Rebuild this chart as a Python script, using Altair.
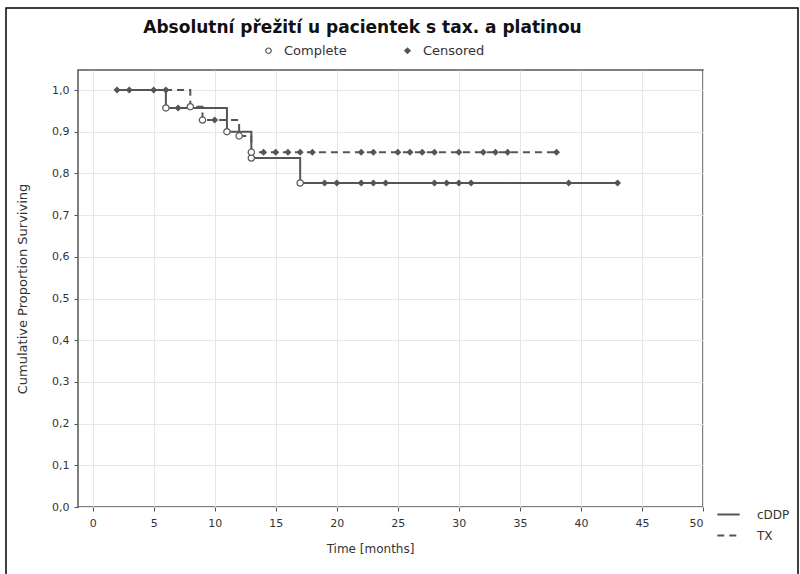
import altair as alt
import pandas as pd

# ---- data ----
groups = ["cDDP", "TX"]
# step-curve vertices (time in months, cumulative proportion surviving)
cddp_time = [2, 6, 11, 13, 17, 43]
cddp_surv = [1.0, 0.957, 0.900, 0.837, 0.777, 0.777]
tx_time = [2, 8, 9, 12, 13, 38]
tx_surv = [1.0, 0.960, 0.928, 0.890, 0.851, 0.851]
# complete (event) times
cddp_events = [6, 11, 13, 17]
tx_events = [8, 9, 12, 13]
# censored times
cddp_censored = [2, 5, 7, 19, 20, 22, 23, 24, 28, 29, 30, 31, 39, 43]
tx_censored = [3, 6, 10, 14, 15, 16, 17, 18, 22, 23, 25, 26, 27, 28, 30, 32, 33, 34, 38]

x_ticks = list(range(0, 51, 5))
y_ticks = [0.0, 0.1, 0.2, 0.3, 0.4, 0.5, 0.6, 0.7, 0.8, 0.9, 1.0]

FONT = "DejaVu Sans"
INK = "#555555"


def surv_at(times, survs, t):
    val = survs[0]
    for tt, ss in zip(times, survs):
        if tt <= t:
            val = ss
    return val


curves = {"cDDP": (cddp_time, cddp_surv, cddp_events, cddp_censored),
          "TX": (tx_time, tx_surv, tx_events, tx_censored)}

line_rows, point_rows = [], []
for g in groups:
    times, survs, events, cens = curves[g]
    for t, s in zip(times, survs):
        line_rows.append({"group": g, "time": t, "surv": s})
    for t in events:
        point_rows.append({"group": g, "type": "Complete", "time": t, "surv": surv_at(times, survs, t)})
    for t in cens:
        point_rows.append({"group": g, "type": "Censored", "time": t, "surv": surv_at(times, survs, t)})

lines_df = pd.DataFrame(line_rows)
points_df = pd.DataFrame(point_rows)

x_scale = alt.Scale(domain=[-1.2, 50], nice=False, zero=False)
y_scale = alt.Scale(domain=[0, 1.048], nice=False)

x_axis = alt.Axis(values=x_ticks, title="Time [months]", grid=True, titleX=292,
                  labelPadding=6, titlePadding=15, titleFontSize=12)
y_axis = alt.Axis(values=y_ticks, title="Cumulative Proportion Surviving", grid=True,
                  labelExpr="replace(format(datum.value, '.1f'), '.', ',')",
                  labelPadding=5, titlePadding=22, titleFontSize=13)

lines = alt.Chart(lines_df).mark_line(interpolate="step-after", color=INK, strokeWidth=2).encode(
    x=alt.X("time:Q", scale=x_scale, axis=x_axis),
    y=alt.Y("surv:Q", scale=y_scale, axis=y_axis),
    strokeDash=alt.StrokeDash(
        "group:N",
        scale=alt.Scale(domain=groups, range=[[1, 0], [7, 5]]),
        legend=alt.Legend(title=None, orient="none", legendX=638, legendY=432,
                          symbolType="stroke", symbolSize=500, symbolStrokeColor=INK,
                          symbolStrokeWidth=2, labelFontSize=12, rowPadding=2,
                          labelOffset=16, labelFont=FONT, labelColor="#333"),
    ),
    detail="group:N",
)

pt_legend = alt.Legend(title=None, orient="none", direction="horizontal",
                       legendX=184, legendY=-26, labelFontSize=13, labelFont=FONT,
                       labelColor="#333", columnPadding=54, symbolSize=30,
                       symbolStrokeWidth=1.2, labelOffset=9)

type_domain = ["Complete", "Censored"]

points = alt.Chart(points_df).mark_point(strokeWidth=1.2, opacity=1).encode(
    x=alt.X("time:Q", scale=x_scale),
    y=alt.Y("surv:Q", scale=y_scale),
    shape=alt.Shape("type:N", scale=alt.Scale(domain=type_domain, range=["circle", "diamond"]),
                    legend=pt_legend),
    fill=alt.Fill("type:N", scale=alt.Scale(domain=type_domain, range=["white", INK]),
                  legend=pt_legend),
    stroke=alt.Stroke("type:N", scale=alt.Scale(domain=type_domain, range=[INK, INK]),
                      legend=pt_legend),
    size=alt.condition(alt.datum.type == "Complete", alt.value(40), alt.value(28)),
)

frame = alt.Chart(pd.DataFrame({"k": [0]})).mark_rect(
    fillOpacity=0, stroke="black", strokeWidth=1.5
).encode(
    x=alt.value(-72), x2=alt.value(720), y=alt.value(-62), y2=alt.value(510)
)

chart = alt.layer(frame, lines, points).properties(
    width=625,
    height=437,
    padding={"left": 78, "top": 70, "right": 97, "bottom": 67},
    autosize=alt.AutoSizeParams(type="none"),
    background="white",
    title=alt.TitleParams(
        "Absolutní přežití u pacientek s tax. a platinou",
        fontSize=17, font=FONT, fontWeight="bold", anchor="middle", dx=-28,
        offset=-30, color="#111",
    ),
).configure_view(
    stroke="#555", strokeWidth=1.5
).configure_axis(
    gridColor="#e6e6e6", gridWidth=1, domain=False, tickColor="#555", tickSize=4,
    labelFont=FONT, labelFontSize=11, labelColor="#333",
    titleFont=FONT, titleFontWeight="normal", titleColor="#333",
)

chart.save("out.html", embed_options={"renderer": "svg", "actions": False})
